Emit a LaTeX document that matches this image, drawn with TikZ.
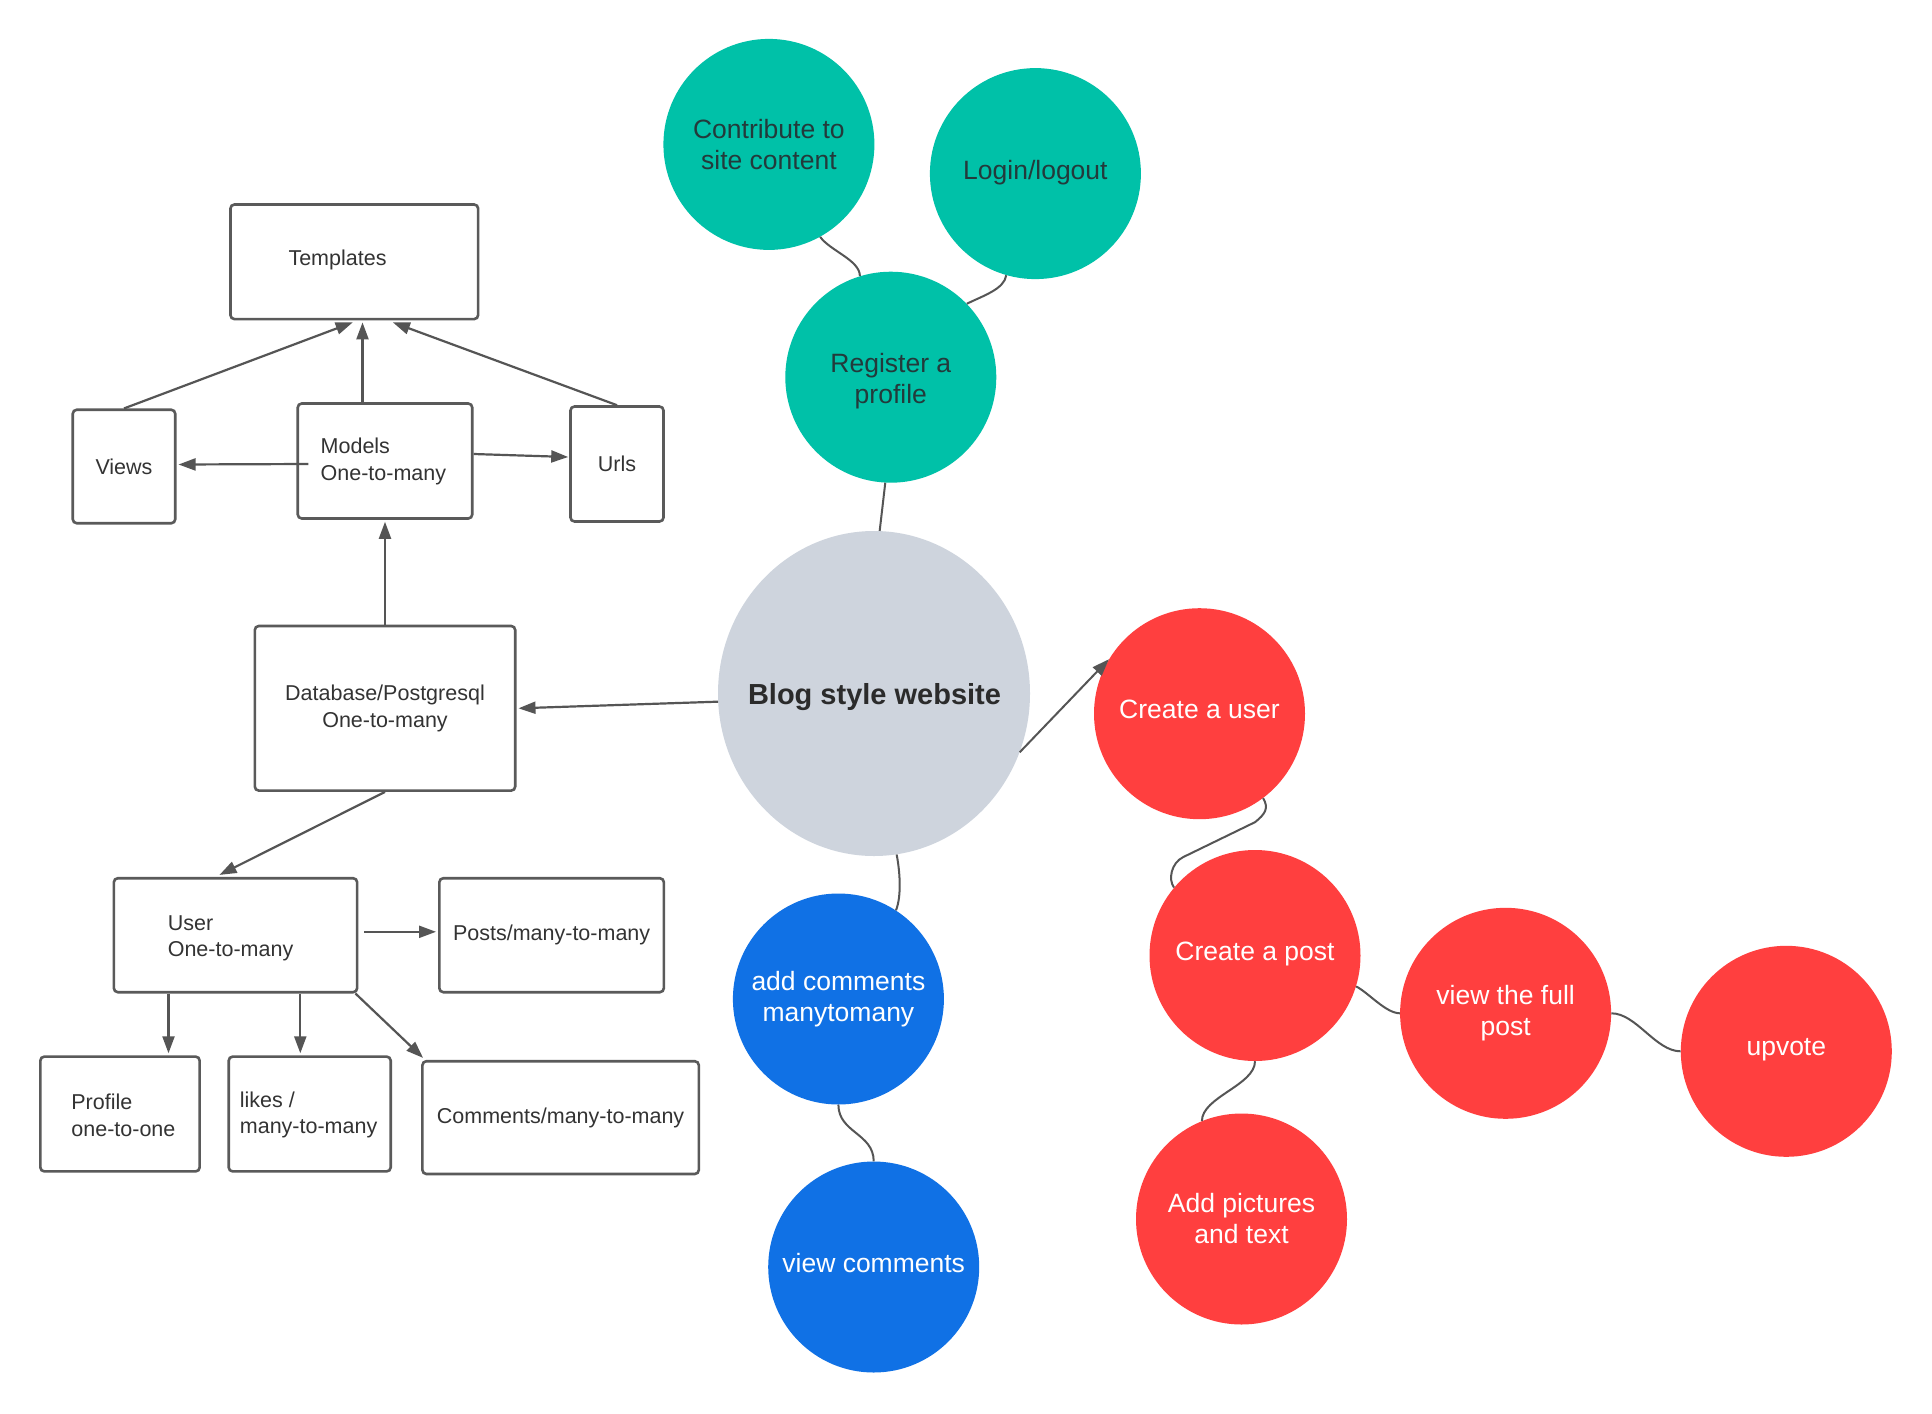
\documentclass[tikz,border=0pt]{standalone}
\usepackage{fontspec}
\setmainfont{Liberation Sans}
\usetikzlibrary{arrows.meta,shapes.geometric}
\definecolor{tealc}{HTML}{00C1A8}
\definecolor{redc}{HTML}{FF3F3F}
\definecolor{bluec}{HTML}{1071E5}
\definecolor{grayc}{HTML}{CED4DD}
\definecolor{boxline}{HTML}{5A5A5A}
\definecolor{conn}{HTML}{555555}
\definecolor{darktxt}{HTML}{233A3B}
\definecolor{boxtxt}{HTML}{333333}
\definecolor{blogtxt}{HTML}{2B2B2B}
\begin{document}
\begin{tikzpicture}[x=1pt,y=-1pt,
  box/.style={draw=boxline,line width=2.6pt,rounded corners=4pt,inner sep=0pt,text=boxtxt,font=\fontsize{21.5}{26.8}\selectfont,align=center},
  btxt/.style={text=boxtxt,font=\fontsize{21.5}{26.8}\selectfont,align=left,inner sep=0pt},
  arr/.style={draw=conn,line width=2.2pt,-{Triangle[length=17pt,width=12pt]}},
  bubble/.style={circle,minimum size=211pt,inner sep=0pt,font=\fontsize{26.5}{31}\selectfont,align=center},
  oneline/.style={text depth=8pt},
  tealb/.style={bubble,fill=tealc,text=darktxt},
  redb/.style={bubble,fill=redc,text=white},
  blueb/.style={bubble,fill=bluec,text=white},
  link/.style={draw=conn,line width=2pt}
]
\fill[white] (0,0) rectangle (1932,1413);
\useasboundingbox (0,0) rectangle (1932,1413);

% ---- boxes ----
\node[box,minimum width=247.7pt,minimum height=114.6pt] (templates) at (354.3,261.8) {};
\node[btxt] (templatesT) at (337.5,260) {Templates};
\node[box,minimum width=102.5pt,minimum height=113.5pt] (views) at (124,466.5) {Views};
\node[box,minimum width=174.5pt,minimum height=115pt] (models) at (385,461) {};
\node[btxt,anchor=west] (modelsT) at (320.5,461.7) {Models\\One-to-many};
\node[box,minimum width=93pt,minimum height=115pt] (urls) at (617,464) {Urls};
\node[box,minimum width=260.4pt,minimum height=164.6pt] (db) at (385,708.3) {Database/Postgresql\\One-to-many};
\node[box,minimum width=243.3pt,minimum height=114pt] (user) at (235.5,935.2) {};
\node[btxt,anchor=west] (userT) at (167.6,938.3) {User\\One-to-many};
\node[box,minimum width=224.5pt,minimum height=114pt] (posts) at (551.6,935.2) {Posts/many-to-many};
\node[box,minimum width=159.3pt,minimum height=114.8pt] (profile) at (120,1114) {};
\node[btxt,anchor=west] (profileT) at (71.2,1115) {Profile\\one-to-one};
\node[box,minimum width=162pt,minimum height=114.8pt] (likes) at (309.7,1114) {};
\node[btxt,anchor=west] (likesT) at (239.7,1115) {likes /\\many-to-many};
\node[box,minimum width=276.4pt,minimum height=112.8pt] (comments) at (560.6,1117.6) {Comments/many-to-many};

% ---- circles ----
\node[tealb] (contrib) at (768.9,144.4) {Contribute to\\site content};
\node[tealb,oneline] (login) at (1035.4,173.6) {Login/logout};
\node[tealb] (reg) at (890.8,377.2) {};
\node[text=darktxt,font=\fontsize{26.5}{31}\selectfont,align=center,inner sep=0pt] (regT) at (890.8,381) {Register a\\profile};
\node[ellipse,fill=grayc,minimum width=312pt,minimum height=325pt,inner sep=0pt] (blog) at (874,693.5) {};
\node[text=blogtxt,font=\bfseries\fontsize{29}{34}\selectfont,inner sep=0pt] (blogT) at (874.5,697) {Blog style website};
\node[redb,oneline] (cuser) at (1199.5,713.7) {Create a user};
\node[redb,oneline] (cpost) at (1255,955.5) {Create a post};
\node[redb] (vfull) at (1505.6,1013.3) {view the full\\post};
\node[redb,oneline] (upvote) at (1786.3,1051.3) {upvote};
\node[redb] (addpic) at (1241.5,1219) {Add pictures\\and text};
\node[blueb] (addc) at (838.4,999) {add comments\\manytomany};
\node[blueb,oneline] (viewc) at (873.7,1267) {view comments};

% ---- box arrows ----
\draw[arr] (views.north) -- ([xshift=-1.6pt,yshift=-2pt]templates.south);
\draw[arr] ([xshift=-22.5pt]models.north) -- ([xshift=8.2pt,yshift=-2pt]templates.south);
\draw[arr] (urls.north) -- ([xshift=38.6pt,yshift=-2pt]templates.south);
\draw[arr] ([xshift=12pt,yshift=-3pt]models.west) -- ([xshift=2pt,yshift=2pt]views.east);
\draw[arr] ([yshift=7pt]models.east) -- ([xshift=-1pt,yshift=7pt]urls.west);
\draw[arr] (db.north) -- ([yshift=-2pt]models.south);
\draw[arr] (blog.183) -- ([xshift=2pt]db.east);
\draw[arr] (db.south) -- ([xshift=-16pt,yshift=2pt]user.north);
\draw[arr] ([xshift=6pt,yshift=3.4pt]user.east) -- ([xshift=-2pt,yshift=3.4pt]posts.west);
\draw[arr] ([xshift=-67pt]user.south) -- ([xshift=48.5pt,yshift=2pt]profile.north);
\draw[arr] ([xshift=64.8pt]user.south) -- ([xshift=-9.4pt,yshift=2pt]likes.north);
\draw[arr] ([xshift=-3pt]user.south east) -- ([xshift=2pt,yshift=2pt]comments.north west);

% ---- circle links ----
\draw[link] (contrib.-61) .. controls +(10,14) and +(0,-16) .. (reg.107);
\draw[link] (login.-106) .. controls +(-2,14) and +(16,-8) .. (reg.44);
\draw[link] (reg.-93) -- (blog.88);
\draw[link] (blog.-82) .. controls +(3,15) and +(6,-15) .. (addc.57);
\draw[link] (addc.south) .. controls +(0,28) and +(0,-28) .. (viewc.north);
\draw[arr,line width=2pt] (blog.-22.7) -- (cuser.149);
\draw[link] (cuser.-53) .. controls +(6,10) and +(10,-8) .. ++(-8,24) -- ++(-72,35) .. controls +(-12,6) and +(-6,-8) .. (cpost.140);
\draw[link] (cpost.-17) .. controls +(12,6) and +(-14,0) .. (vfull.west);
\draw[link] (vfull.east) .. controls +(25,0) and +(-25,0) .. (upvote.west);
\draw[link] (cpost.south) .. controls +(0,24) and +(0,-24) .. (addpic.112);
\end{tikzpicture}
\end{document}
